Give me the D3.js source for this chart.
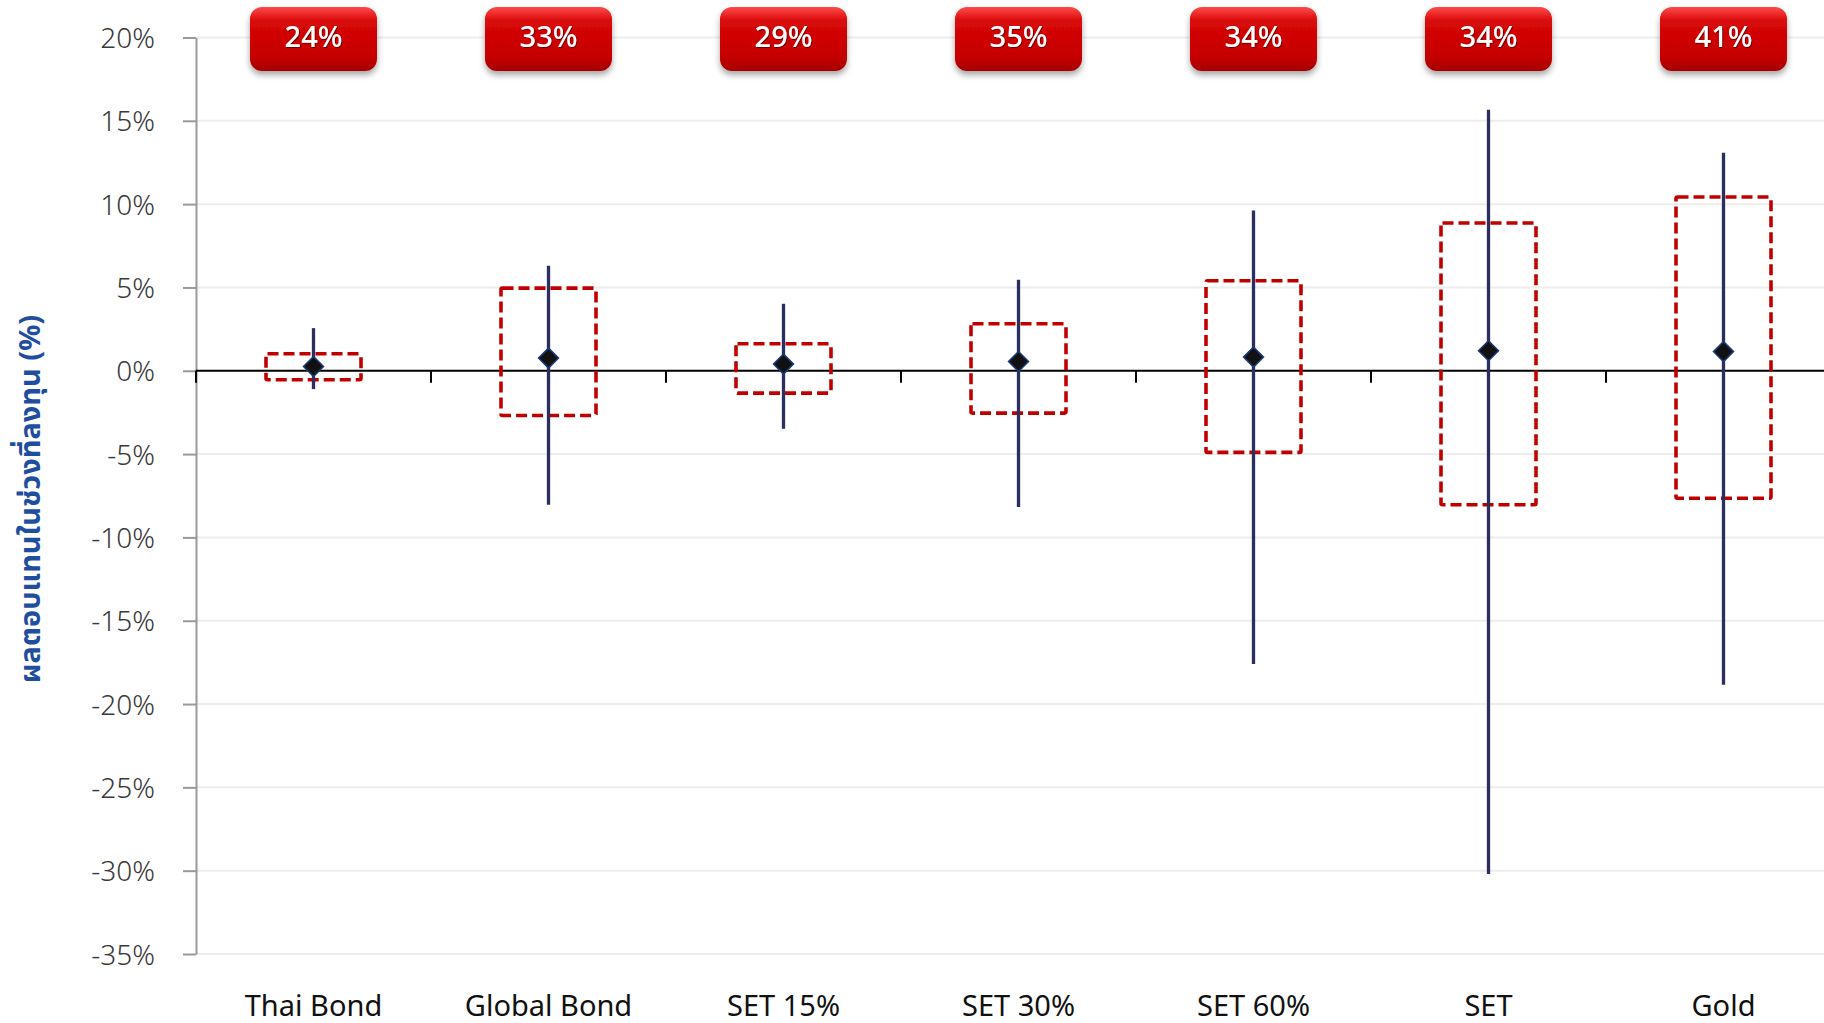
<!DOCTYPE html>
<html>
<head>
<meta charset="utf-8">
<script src="https://cdn.jsdelivr.net/npm/d3@7"></script>
<style>
  html, body { margin: 0; padding: 0; background: #fff; }
  svg { display: block; }
</style>
</head>
<body>
<svg id="chart" width="1824" height="1023"></svg>
<script>
// ---- data (percent) ----
const categories = ["Thai Bond", "Global Bond", "SET 15%", "SET 30%", "SET 60%", "SET", "Gold"];
const maxValues  = [2.56, 6.3, 4.02, 5.46, 9.62, 15.66, 13.09];
const minValues  = [-1.1, -8.04, -3.48, -8.17, -17.59, -30.2, -18.84];
const boxTop     = [1.02, 4.96, 1.62, 2.82, 5.4, 8.87, 10.43];
const boxBottom  = [-0.54, -2.68, -1.34, -2.54, -4.9, -8.04, -7.65];
const meanValues = [0.26, 0.76, 0.4, 0.56, 0.82, 1.2, 1.15];
const badgeLabels = ["24%", "33%", "29%", "35%", "34%", "34%", "41%"];
const yTicks = [20, 15, 10, 5, 0, -5, -10, -15, -20, -25, -30, -35];
const yTitle = "ผลตอบแทนในช่วงที่ลงทุน (%)";

const svg = d3.select("#chart");
const W = 1824;
const plotLeft = 196, plotTop = 37.5, plotBottom = 954;
const bandW = 235;

const x = d3.scaleBand().domain(categories).range([plotLeft, plotLeft + bandW * categories.length]).padding(0);
const y = d3.scaleLinear().domain([-35, 20]).range([plotBottom, plotTop]);

const defs = svg.append("defs");
const grad = defs.append("linearGradient").attr("id", "badgeGrad").attr("x1", 0).attr("y1", 0).attr("x2", 0).attr("y2", 1);
grad.append("stop").attr("offset", "0%").attr("stop-color", "#ff4a4a");
grad.append("stop").attr("offset", "22%").attr("stop-color", "#d80808");
grad.append("stop").attr("offset", "80%").attr("stop-color", "#c40000");
grad.append("stop").attr("offset", "100%").attr("stop-color", "#a30000");
const shadow = defs.append("filter").attr("id", "shadow").attr("x", "-20%").attr("y", "-20%").attr("width", "140%").attr("height", "160%");
shadow.append("feDropShadow").attr("dx", 0).attr("dy", 4).attr("stdDeviation", 3).attr("flood-color", "#000").attr("flood-opacity", 0.35);
const tshadow = defs.append("filter").attr("id", "tshadow");
tshadow.append("feDropShadow").attr("dx", 1).attr("dy", 1).attr("stdDeviation", 0.6).attr("flood-color", "#400").attr("flood-opacity", 0.7);

// gridlines
svg.append("g").selectAll("line").data(yTicks.filter(d => d !== 0)).join("line")
  .attr("x1", plotLeft).attr("x2", W)
  .attr("y1", d => y(d)).attr("y2", d => y(d))
  .attr("stroke", "#ededed").attr("stroke-width", 2);

// y axis
const yAxis = d3.axisLeft(y).tickValues(yTicks).tickFormat(d => d + "%").tickSize(13).tickSizeOuter(0).tickPadding(28);
const gy = svg.append("g").attr("transform", `translate(${plotLeft},0)`).call(yAxis);
gy.select(".domain").attr("stroke", "#999").attr("stroke-width", 2);
gy.selectAll(".tick line").attr("stroke", "#999").attr("stroke-width", 2);
gy.selectAll(".tick text").attr("font-family", "'Noto Sans', 'Open Sans', sans-serif")
  .attr("font-size", 28).attr("font-weight", 300).attr("fill", "#3a3a3a").attr("dy", "0.36em");

// zero line + category ticks
const gx = svg.append("g").attr("transform", `translate(0,${y(0)})`);
gx.append("line").attr("x1", plotLeft).attr("x2", W).attr("y1", 0).attr("y2", 0).attr("stroke", "#000").attr("stroke-width", 2);
gx.selectAll("line.tk").data(categories).join("line").attr("class", "tk")
  .attr("x1", d => x(d)).attr("x2", d => x(d)).attr("y1", 0).attr("y2", 12)
  .attr("stroke", "#000").attr("stroke-width", 2);

// category labels
svg.append("g").selectAll("text").data(categories).join("text")
  .attr("x", d => x(d) + x.bandwidth() / 2).attr("y", 1006)
  .attr("text-anchor", "middle").attr("dy", "0.36em")
  .attr("font-family", "'Noto Sans', 'Open Sans', sans-serif").attr("font-size", 29).attr("fill", "#111")
  .text(d => d);

const cx = i => x(categories[i]) + x.bandwidth() / 2;
const boxW = 95;

// dashed boxes
svg.append("g").selectAll("rect").data(categories).join("rect")
  .attr("x", (d, i) => cx(i) - boxW / 2).attr("width", boxW)
  .attr("y", (d, i) => y(boxTop[i])).attr("height", (d, i) => y(boxBottom[i]) - y(boxTop[i]))
  .attr("fill", "none").attr("stroke", "#c00000").attr("stroke-width", 3.6)
  .attr("stroke-dasharray", "11,5").attr("rx", 1.5);

// whiskers
svg.append("g").selectAll("line").data(categories).join("line")
  .attr("x1", (d, i) => cx(i)).attr("x2", (d, i) => cx(i))
  .attr("y1", (d, i) => y(maxValues[i])).attr("y2", (d, i) => y(minValues[i]))
  .attr("stroke", "#2a2f60").attr("stroke-width", 3.3);

// diamonds
const r = 10;
svg.append("g").selectAll("path").data(categories).join("path")
  .attr("transform", (d, i) => `translate(${cx(i)},${y(meanValues[i])})`)
  .attr("d", `M0,${-r}L${r},0L0,${r}L${-r},0Z`)
  .attr("fill", "#111").attr("stroke", "#1d3a78").attr("stroke-width", 1.5);

// badges
const badgeW = 127, badgeH = 64, badgeTop = 7;
const badges = svg.append("g").selectAll("g").data(categories).join("g")
  .attr("transform", (d, i) => `translate(${cx(i) - badgeW / 2},${badgeTop})`);
badges.append("rect").attr("width", badgeW).attr("height", badgeH).attr("rx", 12)
  .attr("fill", "url(#badgeGrad)").attr("filter", "url(#shadow)");
badges.append("text").attr("x", badgeW / 2).attr("y", badgeH / 2 - 2).attr("dy", "0.36em")
  .attr("text-anchor", "middle").attr("font-family", "'Noto Sans', 'Open Sans', sans-serif")
  .attr("font-size", 29).attr("font-weight", 500).attr("fill", "#fff").attr("filter", "url(#tshadow)")
  .text((d, i) => badgeLabels[i]);

// y title
svg.append("text")
  .attr("transform", "translate(30,499) rotate(-90)")
  .attr("text-anchor", "middle").attr("dy", "0.36em")
  .attr("font-family", "'Noto Sans', 'Noto Sans Thai', 'DejaVu Sans', sans-serif")
  .attr("font-size", 29).attr("font-weight", 700).attr("fill", "#1f4e9f")
  .text(yTitle);
</script>
</body>
</html>
